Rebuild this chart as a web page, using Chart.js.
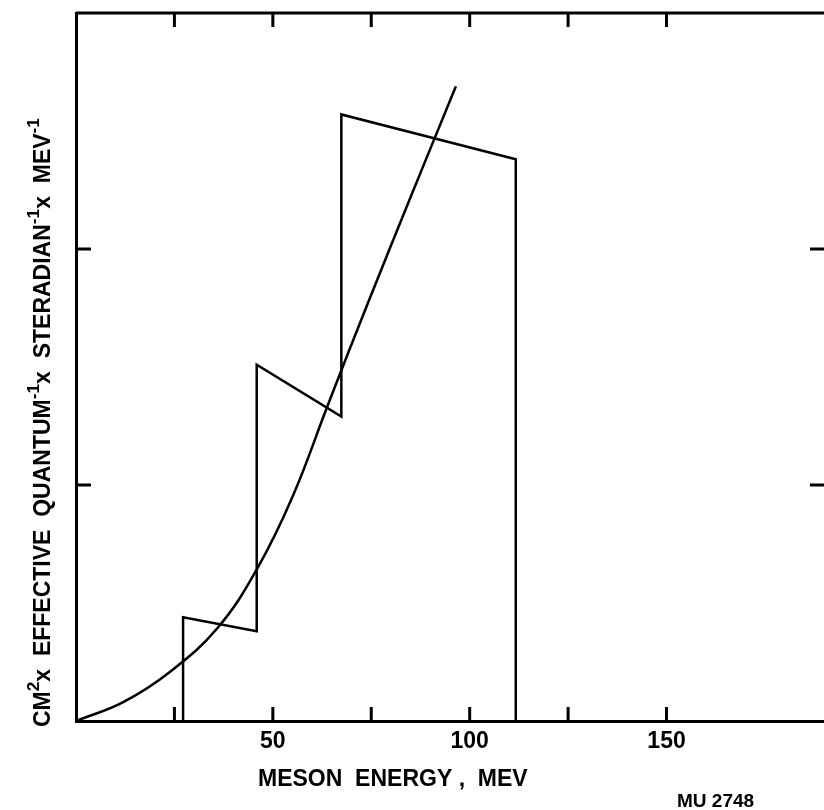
<!DOCTYPE html>
<html>
<head>
<meta charset="utf-8">
<script src="https://cdn.jsdelivr.net/npm/chart.js@4/dist/chart.umd.min.js"></script>
<style>
  html, body { margin: 0; padding: 0; background: #fff; }
  canvas { display: block; }
</style>
</head>
<body>
<canvas id="chart" width="824" height="810"></canvas>
<script>
// histogram bins (MeV edges, value at left / right end of each bin)
const binEdges = [27.2, 45.9, 67.4, 111.7];
const binLeft = [0.44, 1.51, 2.57];
const binRight = [0.38, 1.29, 2.38];

// smooth curve
const curveEnergy = [0, 12, 24, 36, 46, 55, 64, 74, 85, 96.5];
const curveValue = [0, 0.08, 0.21, 0.395, 0.645, 0.95, 1.34, 1.765, 2.22, 2.69];

const xLabels = [50, 100, 150];
const xTitle = 'MESON  ENERGY ,  MEV';
const yTitle = [
    { t: 'CM' }, { t: '2', sup: true }, { t: 'x  EFFECTIVE  QUANTUM' }, { t: '-1', sup: true },
    { t: 'x  STERADIAN' }, { t: '-1', sup: true }, { t: 'x  MEV' }, { t: '-1', sup: true }
];
const note = 'MU 2748';

const FONT = '"Liberation Sans", Arial, sans-serif';

// outline of the histogram built from the bins
const histPoints = [{ x: binEdges[0], y: 0 }];
for (let i = 0; i < binLeft.length; i++) {
    histPoints.push({ x: binEdges[i], y: binLeft[i] });
    histPoints.push({ x: binEdges[i + 1], y: binRight[i] });
}
histPoints.push({ x: binEdges[binEdges.length - 1], y: 0 });

const curvePoints = curveEnergy.map((e, i) => ({ x: e, y: curveValue[i] }));

function drawParts(ctx, parts, x, y, size) {
    parts.forEach(p => {
        const s = p.sup ? size * 0.75 : size;
        ctx.font = 'bold ' + s + 'px ' + FONT;
        ctx.fillText(p.t, x, p.sup ? y - size * 0.5 : y);
        x += ctx.measureText(p.t).width;
    });
}

const frame = {
    id: 'frame',
    afterDraw(chart) {
        const { ctx, chartArea: a, scales: { x, y } } = chart;
        ctx.save();
        ctx.strokeStyle = '#000';
        ctx.lineWidth = 3;
        const line = (x1, y1, x2, y2) => {
            ctx.beginPath(); ctx.moveTo(x1, y1); ctx.lineTo(x2, y2); ctx.stroke();
        };
        // top frame line
        line(a.left, a.top, a.right, a.top);
        // inward ticks
        x.ticks.forEach(t => {
            if (t.value <= x.min || t.value >= x.max) return;
            const px = x.getPixelForValue(t.value);
            line(px, a.bottom, px, a.bottom - 14);
            line(px, a.top, px, a.top + 14);
        });
        y.ticks.forEach(t => {
            if (t.value <= y.min || t.value >= y.max) return;
            const py = y.getPixelForValue(t.value);
            line(a.left, py, a.left + 15, py);
            line(a.right, py, a.right - 14, py);
        });

        ctx.fillStyle = '#000';
        ctx.textBaseline = 'alphabetic';
        ctx.textAlign = 'left';
        // x title
        ctx.font = 'bold 23px ' + FONT;
        ctx.fillText(xTitle, 258, 786);
        // y title, rotated
        ctx.save();
        ctx.translate(50, 727);
        ctx.rotate(-Math.PI / 2);
        drawParts(ctx, yTitle, 0, 0, 23);
        ctx.restore();
        // note
        ctx.font = 'bold 19px ' + FONT;
        ctx.fillText(note, 677, 807);
        ctx.restore();
    }
};

new Chart(document.getElementById('chart'), {
    type: 'line',
    data: {
        datasets: [{
            data: histPoints,
            borderColor: '#000',
            borderWidth: 2.5,
            pointRadius: 0,
            tension: 0,
            fill: false
        }, {
            data: curvePoints,
            borderColor: '#000',
            borderWidth: 2.5,
            pointRadius: 0,
            tension: 0.4,
            fill: false
        }]
    },
    options: {
        responsive: false,
        animation: false,
        layout: { padding: { top: 13, right: 0, left: 0, bottom: 0 } },
        plugins: { legend: { display: false }, tooltip: { enabled: false } },
        scales: {
            x: {
                type: 'linear',
                min: 0,
                max: 190,
                afterFit: s => { s.height = 89; s.paddingLeft = 0; s.paddingRight = 0; },
                grid: { drawOnChartArea: false, drawTicks: false },
                border: { color: '#000', width: 3 },
                ticks: {
                    stepSize: 25,
                    padding: 7,
                    color: '#000',
                    font: { family: FONT, size: 23, weight: 'bold' },
                    maxRotation: 0,
                    autoSkip: false,
                    callback: v => xLabels.includes(v) ? String(v) : ''
                }
            },
            y: {
                min: 0,
                max: 3,
                afterFit: s => { s.width = 76; },
                grid: { drawOnChartArea: false, drawTicks: false },
                border: { color: '#000', width: 3 },
                ticks: { stepSize: 1, display: false }
            }
        }
    },
    plugins: [frame]
});
</script>
</body>
</html>
